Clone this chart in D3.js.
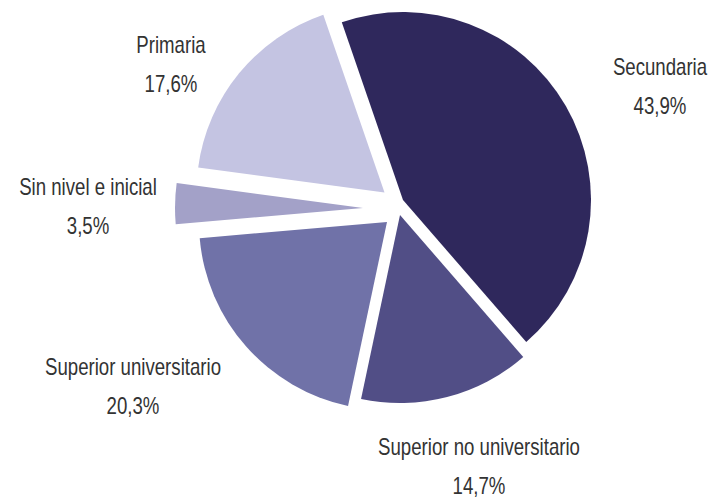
<!DOCTYPE html>
<html>
<head>
<meta charset="utf-8">
<script src="https://cdn.jsdelivr.net/npm/d3@7"></script>
<style>
  html, body { margin: 0; padding: 0; background: #fff; }
  svg text { font-family: "Liberation Sans Narrow", "Arial Narrow", "Liberation Sans", Arial, sans-serif; }
</style>
</head>
<body>
<svg id="chart" width="709" height="500"></svg>
<script>
const categories = ["Secundaria", "Superior no universitario", "Superior universitario", "Sin nivel e inicial", "Primaria"];
const values = [43.9, 14.7, 20.3, 3.5, 17.6];
const valueLabels = ["43,9%", "14,7%", "20,3%", "3,5%", "17,6%"];

const colors = ["#2f285c", "#514e86", "#7072a8", "#a3a1c8", "#c4c4e2"];
// per-slice displacement of each exploded wedge (px)
const offsets = [[10, -5], [7, 10], [-6, 17], [-30, 3], [-8.5, -12.5]];
const labelPos = [[660, 75], [479, 455], [133, 375], [88, 195], [171, 53]];

const svg = d3.select("#chart");
const cx = 393, cy = 205, r = 188;

const pie = d3.pie().sort(null).startAngle(-19 * Math.PI / 180).endAngle((360 - 19) * Math.PI / 180);
const arcs = pie(values);
const arc = d3.arc().innerRadius(0).outerRadius(r);

const g = svg.append("g").attr("transform", `translate(${cx},${cy})`);
g.selectAll("path").data(arcs).enter().append("path")
  .attr("d", arc)
  .attr("fill", (d, i) => colors[i])
  .attr("transform", (d, i) => `translate(${offsets[i][0]},${offsets[i][1]})`);

// condensed text: detect whether a narrow face is available, otherwise squeeze horizontally
const probe = svg.append("text").attr("font-size", 23).text("Superior no universitario");
const w = probe.node().getComputedTextLength();
probe.remove();
const sx = Math.min(1, 202 / w);

const lg = svg.append("g");
categories.forEach((c, i) => {
  [c, valueLabels[i]].forEach((t, k) => {
    lg.append("text")
      .attr("transform", `translate(${labelPos[i][0]},${labelPos[i][1] + k * 39}) scale(${sx},1)`)
      .attr("text-anchor", "middle").attr("font-size", 23).attr("fill", "#333")
      .text(t);
  });
});
</script>
</body>
</html>
